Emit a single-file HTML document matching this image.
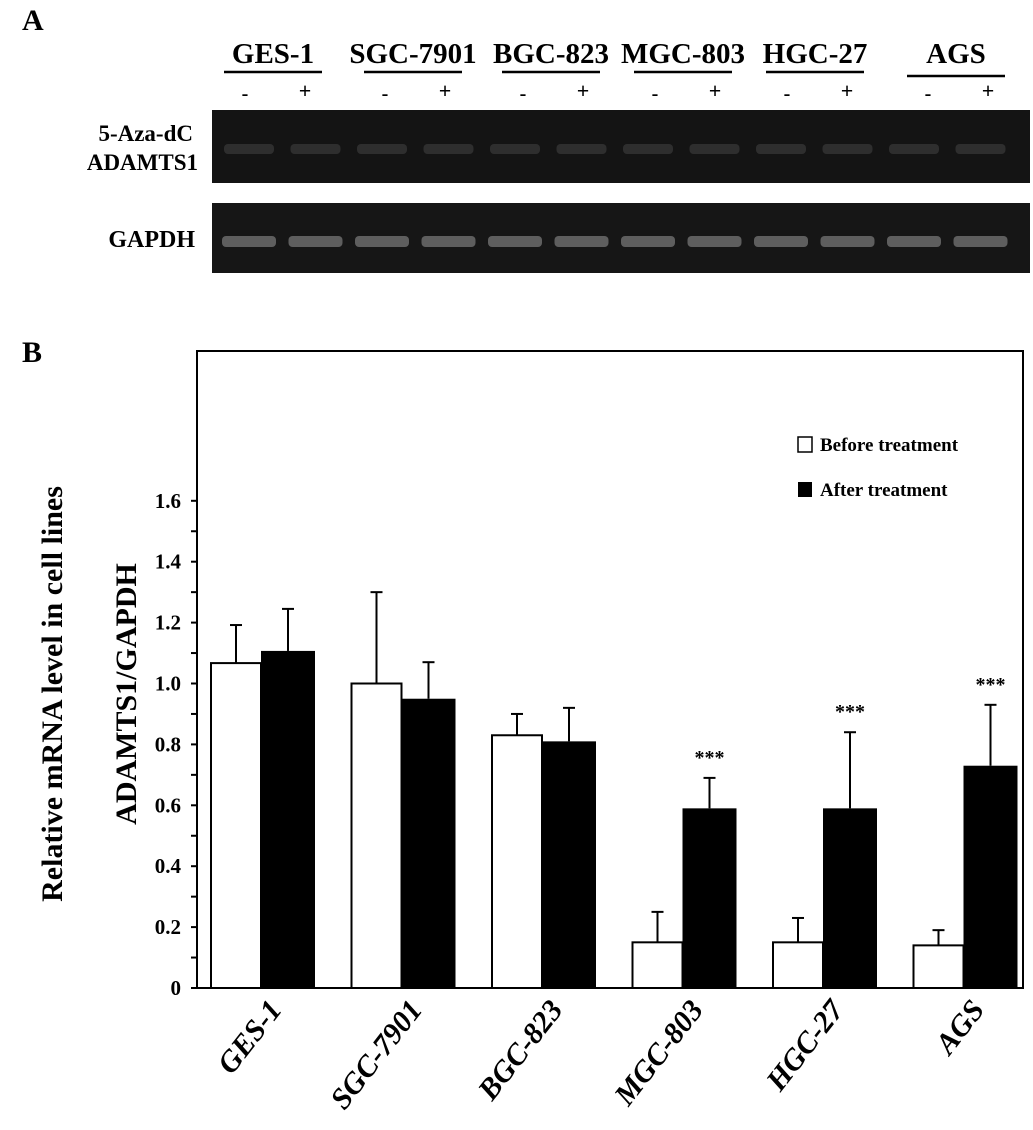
<!DOCTYPE html>
<html><head><meta charset="utf-8"><style>
body{margin:0;background:#fff;}
svg{display:block;font-family:"Liberation Serif",serif;font-weight:bold;}
</style></head><body>
<svg width="1033" height="1130" viewBox="0 0 1033 1130">
<text x="22" y="30" font-size="30">A</text>
<g id="gelHdr"></g>
<rect x="212" y="110" width="818" height="73" fill="#141414"/>
<rect x="212" y="203" width="818" height="70" fill="#161616"/>
<g id="bands"></g>
<text x="193" y="141" font-size="23" text-anchor="end">5-Aza-dC</text>
<text x="198" y="170" font-size="23" text-anchor="end">ADAMTS1</text>
<text x="195" y="247" font-size="24" text-anchor="end">GAPDH</text>
<text x="22" y="362" font-size="30">B</text>
<rect x="197" y="351" width="826" height="637" fill="none" stroke="#000" stroke-width="2"/>
<g id="axis"></g>
<g id="bars"></g>
<g id="xl"></g>
<text transform="translate(62,694) rotate(-90)" font-size="30" text-anchor="middle">Relative mRNA level in cell lines</text>
<text transform="translate(136,694) rotate(-90)" font-size="30" text-anchor="middle">ADAMTS1/GAPDH</text>
<g>
<rect x="798" y="437" width="14" height="15" fill="#fff" stroke="#000" stroke-width="1.5"/>
<text x="820" y="451" font-size="19">Before treatment</text>
<rect x="798" y="482" width="14" height="15" fill="#000"/>
<text x="820" y="496" font-size="19">After treatment</text>
</g>
</svg>
<script>
const categories=["GES-1","SGC-7901","BGC-823","MGC-803","HGC-27","AGS"];
const beforeVals=[1.067,1.0,0.83,0.15,0.15,0.14];
const beforeErr=[0.125,0.30,0.07,0.10,0.08,0.05];
const afterVals=[1.107,0.95,0.81,0.59,0.59,0.73];
const afterErr=[0.138,0.12,0.11,0.10,0.25,0.20];
const sig=["","","","***","***","***"];
const yTicks=["0","0.2","0.4","0.6","0.8","1.0","1.2","1.4","1.6"];
const NS="http://www.w3.org/2000/svg";
function mk(t,a,p){const e=document.createElementNS(NS,t);for(const k in a)e.setAttribute(k,a[k]);p.appendChild(e);return e;}
const y0=988,ppu=304.5;
const Y=v=>y0-v*ppu;
const gx=i=>211+i*140.5;
const ax=document.getElementById('axis');
for(let i=0;i<=16;i++){const v=i*0.1;
 const l=mk('line',{x1:191,x2:197,y1:Y(v),y2:Y(v),stroke:'#000','stroke-width':2},ax);
 }
yTicks.forEach((t,i)=>{const e=mk('text',{x:181,y:Y(i*0.2)+7,'font-size':21,'text-anchor':'end'},ax);e.textContent=t;
 });
const bg=document.getElementById('bars');
categories.forEach((c,i)=>{
 const x=gx(i);
 const wb=50,wa=54;
 let e=mk('line',{x1:x+wb/2,x2:x+wb/2,y1:Y(beforeVals[i]+beforeErr[i]),y2:Y(beforeVals[i]),stroke:'#000','stroke-width':2},bg);
 
 e=mk('line',{x1:x+wb/2-6,x2:x+wb/2+6,y1:Y(beforeVals[i]+beforeErr[i]),y2:Y(beforeVals[i]+beforeErr[i]),stroke:'#000','stroke-width':2},bg);
 
 e=mk('rect',{x:x,y:Y(beforeVals[i]),width:wb,height:beforeVals[i]*ppu,fill:'#fff',stroke:'#000','stroke-width':2},bg);
 
 const xa=x+wb;
 e=mk('line',{x1:xa+wa/2,x2:xa+wa/2,y1:Y(afterVals[i]+afterErr[i]),y2:Y(afterVals[i]),stroke:'#000','stroke-width':2},bg);
 
 e=mk('line',{x1:xa+wa/2-6,x2:xa+wa/2+6,y1:Y(afterVals[i]+afterErr[i]),y2:Y(afterVals[i]+afterErr[i]),stroke:'#000','stroke-width':2},bg);
 
 e=mk('rect',{x:xa,y:Y(afterVals[i]),width:wa,height:afterVals[i]*ppu,fill:'#000'},bg);
 
 if(sig[i]){e=mk('text',{x:xa+wa/2,y:Y(afterVals[i]+afterErr[i])-14,'font-size':20,'text-anchor':'middle'},bg);e.textContent=sig[i];
  }
 e=mk('text',{transform:`translate(${x+72},1010) rotate(-52)`,'font-size':30,'text-anchor':'end','font-style':'italic'},document.getElementById('xl'));
 e.textContent=c;
});
const hdr=document.getElementById('gelHdr');
const hx=[273,413,551,683,815,956];
categories.forEach((c,i)=>{
 let e=mk('text',{x:hx[i],y:63,'font-size':29,'text-anchor':'middle'},hdr);e.textContent=c;
 
 e=mk('line',{x1:hx[i]-49,x2:hx[i]+49,y1:i==5?76:72,y2:i==5?76:72,stroke:'#000','stroke-width':2.5},hdr);
 
 e=mk('text',{x:hx[i]-28,y:100,'font-size':20,'text-anchor':'middle'},hdr);e.textContent='-';
 
 e=mk('text',{x:hx[i]+32,y:98,'font-size':22,'text-anchor':'middle'},hdr);e.textContent='+';
 
});
const bd=document.getElementById('bands');
for(let i=0;i<12;i++){const cx=248+i*66.5;
 let e=mk('rect',{x:cx-24,y:144,width:50,height:10,rx:4,fill:'#2e2e2e'},bd);
 
 e=mk('rect',{x:cx-26,y:236,width:54,height:11,rx:4,fill:'#5e5e5e'},bd);
 }
</script>
</body></html>
